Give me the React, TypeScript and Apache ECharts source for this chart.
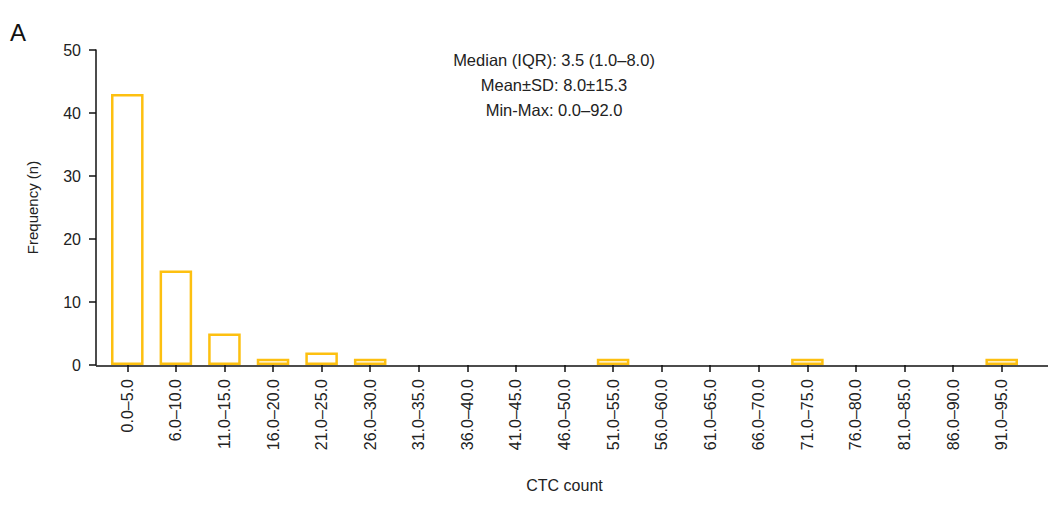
import React, { useEffect, useRef } from "react";
import * as echarts from "echarts";

const categories = [
  "0.0–5.0", "6.0–10.0", "11.0–15.0", "16.0–20.0", "21.0–25.0", "26.0–30.0",
  "31.0–35.0", "36.0–40.0", "41.0–45.0", "46.0–50.0", "51.0–55.0", "56.0–60.0",
  "61.0–65.0", "66.0–70.0", "71.0–75.0", "76.0–80.0", "81.0–85.0", "86.0–90.0",
  "91.0–95.0",
];
const frequency = [43, 15, 5, 1, 2, 1, 0, 0, 0, 0, 1, 0, 0, 0, 1, 0, 0, 0, 1];
const statsLines = [
  "Median (IQR): 3.5 (1.0–8.0)",
  "Mean±SD: 8.0±15.3",
  "Min-Max: 0.0–92.0",
];

const FONT = "'Liberation Sans', Arial, Helvetica, sans-serif";

export default function App() {
  const ref = useRef<HTMLDivElement>(null);
  useEffect(() => {
    if (!ref.current) return;
    const chart = echarts.init(ref.current, undefined, { renderer: "svg" });
    chart.setOption({
      animation: false,
      textStyle: { fontFamily: FONT },
      grid: { left: 95, right: 24, top: 42, bottom: 132, containLabel: false },
      xAxis: {
        type: "category",
        data: categories,
        name: "CTC count",
        nameLocation: "middle",
        nameGap: 112,
        nameTextStyle: { fontSize: 16, color: "#222", fontFamily: FONT },
        axisLine: { show: false },
        axisTick: { show: true, alignWithLabel: true, length: 7, lineStyle: { color: "#111", width: 1.5 } },
        axisLabel: { rotate: 90, fontSize: 16, color: "#222", margin: 14, fontFamily: FONT, interval: 0 },
      },
      yAxis: {
        type: "value",
        min: 0,
        max: 50,
        interval: 10,
        offset: 7,
        name: "Frequency (n)",
        nameLocation: "middle",
        nameGap: 56,
        nameTextStyle: { fontSize: 15, color: "#222", fontFamily: FONT },
        axisLine: { show: true, lineStyle: { color: "#111", width: 1.5 } },
        axisTick: { show: true, length: 7, lineStyle: { color: "#111", width: 1.5 } },
        axisLabel: { fontSize: 16, color: "#222", margin: 15, fontFamily: FONT },
        splitLine: { show: false },
      },
      series: [
        {
          type: "bar",
          data: frequency.map((v) => (v === 0 ? "-" : v)),
          barWidth: "67%",
          itemStyle: { color: "#ffffff", borderColor: "#FDC010", borderWidth: 2.5 },
        },
      ],
      graphic: [
        {
          type: "text",
          left: 2,
          top: 12,
          style: { text: "A", fontSize: 24, fill: "#111", fontFamily: FONT },
        },
        {
          type: "line",
          z: 100,
          shape: { x1: 88, y1: 358, x2: 1040, y2: 358 },
          style: { stroke: "#111", lineWidth: 1.5 },
        },
        ...statsLines.map((t, i) => ({
          type: "text",
          x: 546,
          y: 52 + i * 25,
          style: {
            text: t,
            fontSize: 16.5,
            fill: "#222",
            fontFamily: FONT,
            align: "center",
            verticalAlign: "middle",
          },
        })),
      ],
    });
    return () => chart.dispose();
  }, []);
  return <div ref={ref} style={{ width: 1042, height: 490 }} />;
}
